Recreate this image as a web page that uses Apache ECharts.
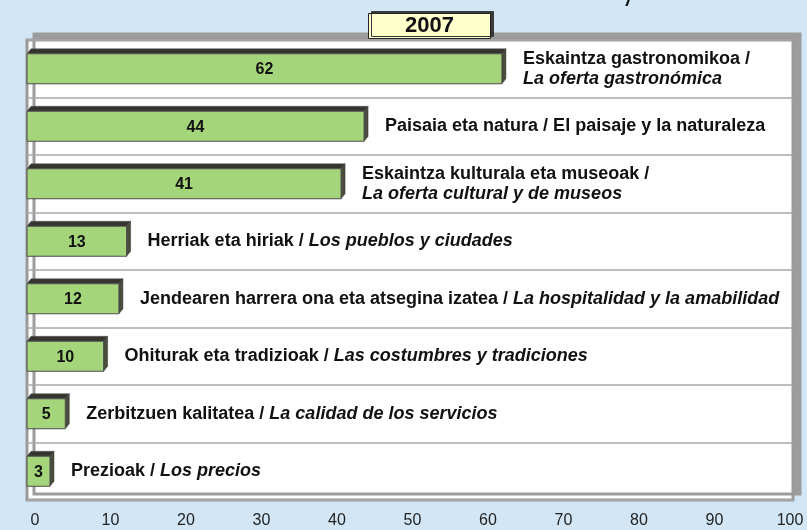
<!DOCTYPE html>
<html>
<head>
<meta charset="utf-8">
<script src="https://cdn.jsdelivr.net/npm/echarts@6/dist/echarts.min.js"></script>
<style>
  html, body { margin: 0; padding: 0; background: #d2e6f5; }
  #chart { width: 807px; height: 530px; }
</style>
</head>
<body>
<div id="chart"></div>
<script>
// data, top row first
const labelsEu = [
  'Eskaintza gastronomikoa /',
  'Paisaia eta natura / El paisaje y la naturaleza',
  'Eskaintza kulturala eta museoak /',
  'Herriak eta hiriak / ',
  'Jendearen harrera ona eta atsegina izatea / ',
  'Ohiturak eta tradizioak / ',
  'Zerbitzuen kalitatea / ',
  'Prezioak / '
];
const labelsEs = [
  'La oferta gastronómica',
  '',
  'La oferta cultural y de museos',
  'Los pueblos y ciudades',
  'La hospitalidad y la amabilidad',
  'Las costumbres y tradiciones',
  'La calidad de los servicios',
  'Los precios'
];
// two-line labels put the spanish part on a second line
const twoLines = [true, false, true, false, false, false, false, false];
const values = [62, 44, 41, 13, 12, 10, 5, 3];
const xTicks = [0, 10, 20, 30, 40, 50, 60, 70, 80, 90, 100];
const yearTitle = '2007';

const FONT = '"Liberation Sans", Arial, sans-serif';
const chart = echarts.init(document.getElementById('chart'));

const catNames = labelsEu.map((s, i) => s + labelsEs[i]);

function renderBar(params, api) {
  const val = api.value(0);
  const idx = api.value(1);
  const p0 = api.coord([0, idx]);
  const p1 = api.coord([val, idx]);
  const h = 30, dx = 4, dy = 5;
  const x0 = p0[0], x1 = p1[0], yc = p0[1];
  const yt = yc - h / 2, yb = yc + h / 2;
  let txt = '{b|' + labelsEu[idx] + '}';
  if (labelsEs[idx]) txt += (twoLines[idx] ? '\n' : '') + '{i|' + labelsEs[idx] + '}';
  return {
    type: 'group',
    children: [
      { type: 'polygon', shape: { points: [[x0, yt], [x0 + dx, yt - dy], [x1 + dx, yt - dy], [x1, yt]] },
        style: { fill: '#353530', stroke: '#555', lineWidth: 0.5 } },
      { type: 'polygon', shape: { points: [[x1, yt], [x1 + dx, yt - dy], [x1 + dx, yb - dy], [x1, yb]] },
        style: { fill: '#4a4c3c', stroke: '#333', lineWidth: 0.5 } },
      { type: 'rect', shape: { x: x0, y: yt, width: x1 - x0, height: h },
        style: { fill: '#a5d57b', stroke: '#4d4d4d', lineWidth: 1 } },
      { type: 'text', style: { text: String(val), x: (x0 + x1) / 2, y: yc + 1, align: 'center', verticalAlign: 'middle',
        font: 'bold 16px ' + FONT, fill: '#111' } },
      { type: 'text', style: { text: txt, x: x1 + 21, y: yc, align: 'left', verticalAlign: 'middle',
        rich: {
          b: { fontFamily: FONT, fontSize: 18, fontWeight: 'bold', fill: '#111', lineHeight: 20 },
          i: { fontFamily: FONT, fontSize: 18, fontWeight: 'bold', fontStyle: 'italic', fill: '#111', lineHeight: 20 }
        } } }
    ]
  };
}

chart.setOption({
  backgroundColor: '#d2e6f5',
  animation: false,
  title: {
    text: yearTitle,
    left: 368, top: 13,
    padding: [2, 37, 2, 37],
    backgroundColor: '#ffffcc',
    borderColor: '#222', borderWidth: 1,
    shadowColor: '#3a3a3a', shadowBlur: 0, shadowOffsetX: 3, shadowOffsetY: -2,
    textStyle: { fontFamily: FONT, fontSize: 22, fontWeight: 'bold', color: '#111' }
  },
  graphic: [
    // tail of the cut-off heading above the box
    { type: 'text', left: 626, top: -10, style: { text: '/', font: 'bold italic 20px ' + FONT, fill: '#111' } }
  ],
  grid: [
    { left: 27, right: 14, top: 40, bottom: 30, show: true, backgroundColor: '#fff',
      borderColor: '#999', borderWidth: 3,
      shadowColor: '#9c9c9c', shadowBlur: 0, shadowOffsetX: 7, shadowOffsetY: -6 },
    { left: 35, right: 17, top: 40, bottom: 30 }
  ],
  xAxis: [
    { gridIndex: 0, type: 'value', min: 0, max: 100, show: false },
    { gridIndex: 1, type: 'value', min: 0, max: 100, interval: 10,
      axisLine: { show: false }, axisTick: { show: false }, splitLine: { show: false },
      axisLabel: { margin: 13, fontFamily: FONT, fontSize: 16, color: '#222',
        formatter: v => xTicks.includes(v) ? String(v) : '' } }
  ],
  yAxis: [
    { gridIndex: 0, type: 'category', data: catNames, inverse: true,
      axisLine: { show: false }, axisTick: { show: false }, axisLabel: { show: false },
      splitLine: { show: true, lineStyle: { color: '#a8a8a8', width: 1.5 } } },
    { gridIndex: 1, type: 'value', show: false }
  ],
  series: [{
    type: 'custom',
    xAxisIndex: 0, yAxisIndex: 0,
    renderItem: renderBar,
    encode: { x: 0, y: 1 },
    clip: false,
    data: values.map((v, i) => [v, i])
  }]
});
</script>
</body>
</html>
